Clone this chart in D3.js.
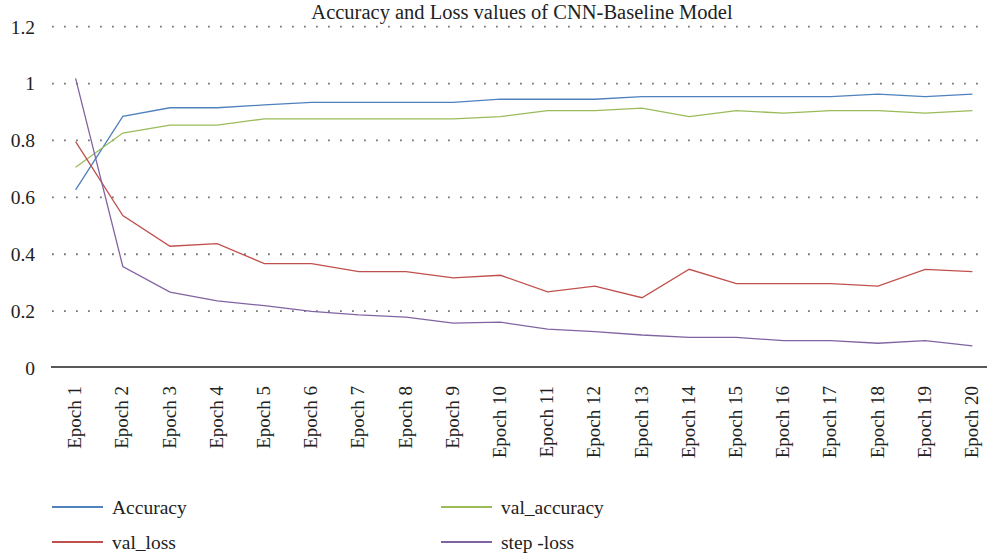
<!DOCTYPE html>
<html><head><meta charset="utf-8">
<script src="https://cdn.jsdelivr.net/npm/d3@7"></script>
<style>body{margin:0;background:#fff}svg{display:block}text{font-family:"Liberation Serif","DejaVu Serif",serif;fill:#222}</style>
</head><body><svg id="c" width="987" height="557"></svg>
<script>
const epochs = d3.range(1,21).map(i=>"Epoch "+i);
const accuracy = [0.626,0.885,0.915,0.915,0.925,0.934,0.934,0.934,0.934,0.945,0.945,0.945,0.954,0.954,0.954,0.954,0.954,0.963,0.954,0.963];
const valAccuracy = [0.706,0.826,0.854,0.854,0.876,0.876,0.876,0.876,0.876,0.884,0.905,0.905,0.914,0.884,0.905,0.896,0.905,0.905,0.896,0.905];
const valLoss = [0.796,0.536,0.428,0.437,0.367,0.367,0.339,0.339,0.317,0.326,0.268,0.288,0.247,0.347,0.297,0.297,0.297,0.288,0.347,0.339];
const stepLoss = [1.018,0.357,0.267,0.236,0.219,0.199,0.187,0.179,0.158,0.161,0.137,0.128,0.116,0.108,0.108,0.096,0.096,0.087,0.096,0.078];
const yTicks = [0,0.2,0.4,0.6,0.8,1,1.2];
const series = [
  {name:"Accuracy", values:accuracy, color:"#4F81BD"},
  {name:"val_accuracy", values:valAccuracy, color:"#9BBB59"},
  {name:"val_loss", values:valLoss, color:"#C0504D"},
  {name:"step -loss", values:stepLoss, color:"#8064A2"}
];
const svg = d3.select("#c");
const x = d3.scaleBand().domain(epochs).range([52,996]).padding(0);
const y = d3.scaleLinear().domain([0,1.2]).range([368,26.7]);

svg.append("g").selectAll("line").data(yTicks.filter(d=>d>0)).join("line")
  .attr("x1",52).attr("x2",987).attr("y1",d=>y(d)).attr("y2",d=>y(d))
  .attr("stroke","#777").attr("stroke-width",1.8).attr("stroke-dasharray","1.8,10.2");

svg.append("g").selectAll("text").data(yTicks).join("text")
  .attr("x",35).attr("y",d=>y(d)).attr("dy","0.35em").attr("text-anchor","end")
  .style("font-size","19.5px").text(d=>d3.format("")(d));

svg.append("line").attr("x1",51).attr("x2",987).attr("y1",y(0)-1).attr("y2",y(0)-1)
  .attr("stroke","#222").attr("stroke-width",1.5);

svg.append("g").selectAll("text").data(epochs).join("text")
  .attr("transform",d=>`translate(${x(d)+x.bandwidth()/2+5.5},386) rotate(-90)`)
  .attr("text-anchor","end").style("font-size","19px").text(d=>d);

const line = d3.line().x((d,i)=>x(epochs[i])+x.bandwidth()/2).y(d=>y(d));
svg.append("g").selectAll("path").data(series).join("path")
  .attr("d",d=>line(d.values)).attr("fill","none").attr("stroke",d=>d.color).attr("stroke-width",1.3);

svg.append("text").attr("x",522).attr("y",19).attr("text-anchor","middle")
  .style("font-size","20.5px").text("Accuracy and Loss values of CNN-Baseline Model");

const lg = svg.append("g").selectAll("g").data(series).join("g")
  .attr("transform",(d,i)=>`translate(${i%2===0?52:441},${i<2?507:542})`);
lg.append("line").attr("x1",0).attr("x2",51).attr("stroke",d=>d.color).attr("stroke-width",2);
lg.append("text").attr("x",60).attr("dy","0.35em").style("font-size","19.5px").text(d=>d.name);
</script></body></html>
